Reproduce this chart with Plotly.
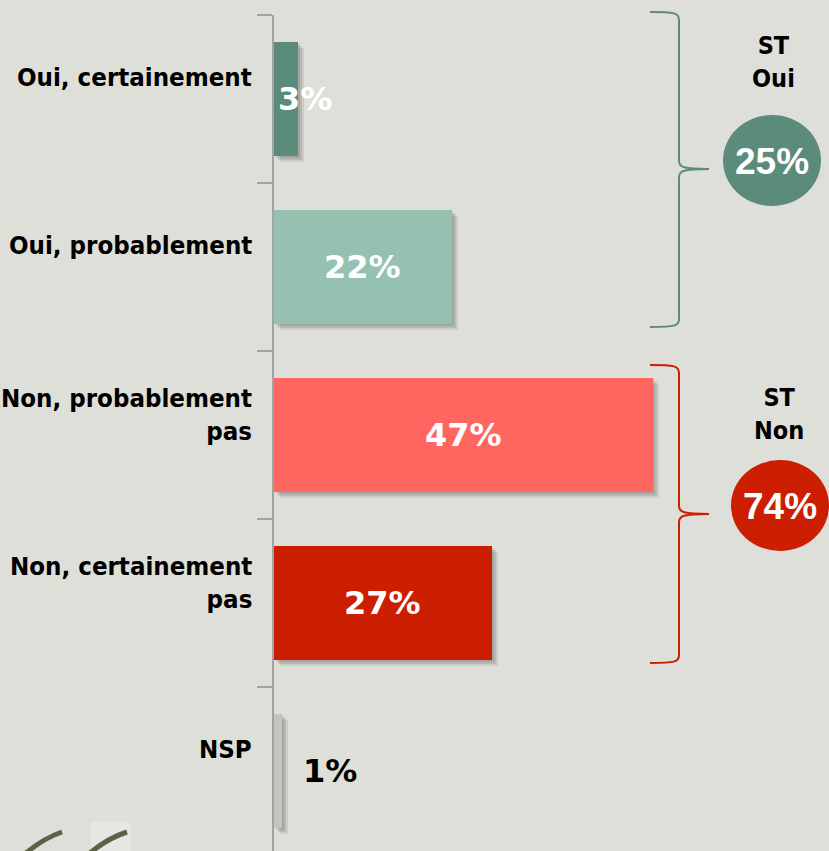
import plotly.graph_objects as go

# ---- data ----
categories = ["Oui, certainement", "Oui, probablement", "Non, probablement pas",
              "Non, certainement pas", "NSP"]
label_lines = ["Oui, certainement", "Oui, probablement", "Non, probablement<br>pas",
               "Non, certainement<br>pas", "NSP"]
values = [3, 22, 47, 27, 1]
value_labels = ["3%", "22%", "47%", "27%", "1%"]
group_names = ["ST<br>Oui", "ST<br>Non"]
group_values = ["25%", "74%"]

# ---- styles ----
bar_colors = ["#5b8b7a", "#95c1b1", "#ff6660", "#cc1e00", "#c4c4c0"]
label_colors = ["white", "white", "white", "white", "black"]
group_colors = ["#5b8b7a", "#cc1e00"]
BG = "#dfdfda"

W, H = 829, 851
ML, MR, MT, MB = 274, 0, 15, 0
PW, PH = W - ML - MR, H - MT - MB
PX_PER_UNIT = 8.07
XMAX = PW / PX_PER_UNIT
YRANGE = [4.476, -0.5]
BAR_W = 0.68
BAND_PX = PH / (YRANGE[0] - YRANGE[1])


def xp(px):
    return (px - ML) / PW


def yp(py):
    return (H - MB - py) / PH


fig = go.Figure()

# soft drop shadows
for k, (dx, dy, a) in enumerate([(2, 2, 0.10), (4, 4, 0.10), (6, 6, 0.08)]):
    fig.add_trace(go.Bar(
        y=categories, x=values, orientation="h",
        base=dx / PX_PER_UNIT, width=BAR_W, offset=-BAR_W / 2 + dy / BAND_PX,
        marker=dict(color=f"rgba(0,0,0,{a})", line=dict(width=0)),
        hoverinfo="skip", showlegend=False))

fig.add_trace(go.Bar(
    y=categories, x=values, orientation="h", width=BAR_W,
    marker=dict(color=bar_colors, line=dict(width=0)),
    showlegend=False))

annotations = []
# category labels
for c, lab in zip(categories, label_lines):
    annotations.append(dict(
        x=0, y=c, xref="x", yref="y", xanchor="right", yanchor="middle",
        xshift=-20, yshift=22 if "<br>" not in lab else 21,
        text=f"<b>{lab}</b>", showarrow=False, align="right",
        font=dict(family="DejaVu Sans Condensed, DejaVu Sans", size=25.6, color="black")))

# value labels
for i, (c, v, t) in enumerate(zip(categories, values, value_labels)):
    if v >= 10:
        annotations.append(dict(x=v / 2, y=c, xref="x", yref="y", xanchor="center",
                                yanchor="middle", text=f"<b>{t}</b>", showarrow=False,
                                font=dict(family="DejaVu Sans", size=32, color=label_colors[i])))
    else:
        annotations.append(dict(x=0, y=c, xref="x", yref="y", xanchor="left",
                                yanchor="middle", xshift=2 if label_colors[i] == "white" else 27,
                                yshift=0, text=f"<b>{t}</b>", showarrow=False,
                                font=dict(family="DejaVu Sans", size=32, color=label_colors[i])))

shapes = []
# braces
brace_specs = [(12, 169, 327), (365, 514, 663)]
for (top, mid, bot), col in zip(brace_specs, group_colors):
    bx, hx, tx = 679, 650, 709
    pts = [
        ("M", [(hx, top)]),
        ("C", [(bx - 4, top), (bx, top + 1), (bx, top + 8)]),
        ("L", [(bx, mid - 8)]),
        ("C", [(bx, mid - 2), (bx + 4, mid), (tx, mid)]),
        ("C", [(bx + 4, mid), (bx, mid + 2), (bx, mid + 8)]),
        ("L", [(bx, bot - 8)]),
        ("C", [(bx, bot - 1), (bx - 4, bot), (hx, bot)]),
    ]
    path = " ".join(cmd + " " + " ".join(f"{xp(a):.5f},{yp(b):.5f}" for a, b in p) for cmd, p in pts)
    shapes.append(dict(type="path", path=path, xref="paper", yref="paper",
                       line=dict(color=col, width=2)))

# group circles and labels
circle_specs = [(723, 115, 821, 206), (731, 460, 829, 551)]
name_pos = [(773, 62), (779, 414)]
for (x0, y0, x1, y1), col, nm, gv, (nx, ny) in zip(circle_specs, group_colors, group_names,
                                                      group_values, name_pos):
    shapes.append(dict(type="circle", xref="paper", yref="paper",
                       x0=xp(x0), x1=xp(x1), y0=yp(y1), y1=yp(y0),
                       fillcolor=col, line=dict(width=0)))
    annotations.append(dict(x=xp((x0 + x1) / 2), y=yp((y0 + y1) / 2 + 1), xref="paper", yref="paper",
                            text=f"<b>{gv}</b>", showarrow=False, xanchor="center", yanchor="middle",
                            font=dict(family="Liberation Sans, Arial", size=37, color="white")))
    annotations.append(dict(x=xp(nx), y=yp(ny), xref="paper", yref="paper",
                            text=f"<b>{nm}</b>", showarrow=False, xanchor="center", yanchor="middle",
                            font=dict(family="DejaVu Sans Condensed, DejaVu Sans", size=25, color="black")))

# cut-off logo fragment at bottom-left
shapes.append(dict(type="rect", xref="paper", yref="paper", layer="below",
                   x0=xp(91), x1=xp(130), y0=yp(851), y1=yp(822),
                   fillcolor="#e6e6e2", line=dict(width=0)))
for (sx, sy, cx, cy, ex, ey) in [(26, 853, 44, 838, 62, 832), (90, 853, 108, 838, 127, 832)]:
    shapes.append(dict(type="path", xref="paper", yref="paper",
                       path=f"M {xp(sx):.5f},{yp(sy):.5f} Q {xp(cx):.5f},{yp(cy):.5f} {xp(ex):.5f},{yp(ey):.5f}",
                       line=dict(color="#5d6146", width=5)))

fig.update_layout(
    width=W, height=H, autosize=False,
    margin=dict(l=ML, r=MR, t=MT, b=MB, pad=0),
    paper_bgcolor=BG, plot_bgcolor=BG,
    barmode="overlay", bargap=0,
    showlegend=False,
    shapes=shapes, annotations=annotations,
    xaxis=dict(range=[0, XMAX], visible=False, fixedrange=True),
    yaxis=dict(type="category", categoryorder="array", categoryarray=categories,
               range=YRANGE, showticklabels=False, showgrid=False, zeroline=False,
               showline=True, linecolor="#a3a3a3", linewidth=2,
               ticks="outside", tickson="boundaries", ticklen=15, tickwidth=2,
               tickcolor="#a3a3a3", fixedrange=True),
)

fig.write_html("out.html", config={"displayModeBar": False},
               post_script="document.body.style.margin='0px';document.body.style.background='%s';" % BG)
